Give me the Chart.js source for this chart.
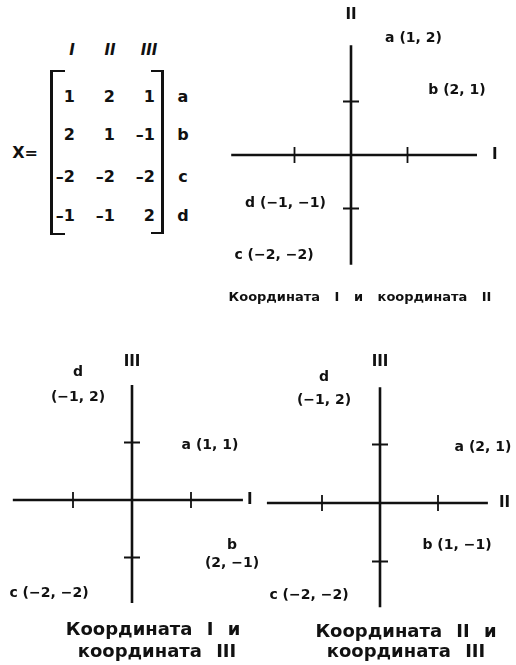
<!DOCTYPE html>
<html><head><meta charset="utf-8">
<script src="https://cdn.jsdelivr.net/npm/chart.js@4/dist/chart.umd.min.js"></script>
<style>
html,body{margin:0;padding:0;background:#fff;}
body{width:516px;height:665px;position:relative;overflow:hidden;font-family:"DejaVu Sans",sans-serif;color:#111;}
canvas{position:absolute;}
.t{position:absolute;font-weight:bold;line-height:1;white-space:nowrap;}
.br{position:absolute;border:0 solid #111;}
</style></head><body>
<div id="matrix"></div>
<canvas id="p12" width="316" height="320" style="left:200px;top:0px"></canvas>
<canvas id="p13" width="266" height="335" style="left:0px;top:330px"></canvas>
<canvas id="p23" width="254" height="335" style="left:262px;top:330px"></canvas>
<script>
// ---- data ----
const rowNames = ['a', 'b', 'c', 'd'];
const coordNames = ['I', 'II', 'III'];
const colI   = [1, 2, -2, -1];
const colII  = [2, 1, -2, -1];
const colIII = [1, -1, -2, 2];
const axisTicks = [-1, 1];

const INK = '#111';
const fmt = v => v < 0 ? '\u2212' + Math.abs(v) : String(v);
const fmtM = v => v < 0 ? '\u2013' + Math.abs(v) : String(v);

// ---- matrix (HTML text) ----
(function(){
  const m = document.getElementById('matrix');
  const add = (txt, x, y, size, align, style) => {
    const s = document.createElement('div');
    s.className = 't';
    s.textContent = txt;
    s.style.fontSize = size + 'px';
    s.style.left = x + 'px'; s.style.top = y + 'px';
    const tx = align === 'right' ? '-100%' : (align === 'left' ? '0' : '-50%');
    s.style.transform = `translate(${tx},-50%)`;
    if (style) s.style.fontStyle = style;
    m.appendChild(s);
  };
  const colRight = [75, 115, 155];
  const headX = [72, 110, 149];
  const rowY = [97, 135, 177, 216];
  const cols = [colI, colII, colIII];
  coordNames.forEach((n, j) => add(n, headX[j], 50, 15, 'center', 'italic'));
  rowNames.forEach((r, i) => {
    cols.forEach((c, j) => add(fmtM(c[i]), colRight[j], rowY[i], 16, 'right'));
    add(r, 183, rowY[i], 16, 'center');
  });
  add('X=', 25, 153, 16, 'center');
  const br = (css) => { const d = document.createElement('div'); d.className = 'br'; Object.assign(d.style, css); m.appendChild(d); };
  br({left:'50px', top:'70px', width:'12px', height:'161px', borderLeftWidth:'3px', borderTopWidth:'2.5px', borderBottomWidth:'2.5px'});
  br({left:'151px', top:'70px', width:'10px', height:'160px', borderRightWidth:'3px', borderTopWidth:'2.5px', borderBottomWidth:'2.5px'});
})();

// ---- plot layouts (positions / styles only) ----
const plots = [
  { id:'p12', xs: colI, ys: colII, xName: coordNames[0], yName: coordNames[1],
    box:[200,0,316,320], origin:[351,155], unit:[56.5,53.5], xExt:[-2.12,2.23], yExt:[-2.05,2.05],
    yNameGap:30, xNameGap:18,
    labels:[[6,-10,0],[-7,-11,0],[36,-7,0],[-9,-5,0]],
    caption:{ lines:['Координата I и координата II'], pos:[[360,298]], size:13, word:10 } },
  { id:'p13', xs: colI, ys: colIII, xName: coordNames[0], yName: coordNames[2],
    box:[0,330,266,335], origin:[132,500], unit:[59,57.5], xExt:[-2.02,1.88], yExt:[-1.79,2.0],
    yNameGap:23, xNameGap:7,
    labels:[[19,3,0],[-18,-3,18],[35,-22,0],[5,0,25]],
    caption:{ lines:['Координата I и','координата III'], pos:[[153,630],[157,652]], size:18, word:8 } },
  { id:'p23', xs: colII, ys: colIII, xName: coordNames[1], yName: coordNames[2],
    box:[262,330,254,335], origin:[380,503], unit:[58,58.5], xExt:[-1.95,1.86], yExt:[-1.78,1.98],
    yNameGap:25, xNameGap:14,
    labels:[[-13,3,0],[19,-16,0],[45,-25,0],[2,2.5,23]],
    caption:{ lines:['Координата II и','координата III'], pos:[[406,632],[406,652]], size:18, word:8 } }
];

function makePlugin(P) {
  return {
    id: 'crossAxes_' + P.id,
    afterDatasetsDraw(chart) {
      const ctx = chart.ctx, x = chart.scales.x, y = chart.scales.y;
      const x0 = x.getPixelForValue(0), y0 = y.getPixelForValue(0);
      ctx.save();
      ctx.strokeStyle = INK; ctx.fillStyle = INK;
      ctx.lineWidth = 2.6;
      ctx.beginPath();
      const xl = x.getPixelForValue(P.xExt[0]), xr = x.getPixelForValue(P.xExt[1]);
      const yb = y.getPixelForValue(P.yExt[0]), yt = y.getPixelForValue(P.yExt[1]);
      ctx.moveTo(xl, y0); ctx.lineTo(xr, y0);
      ctx.moveTo(x0, yb); ctx.lineTo(x0, yt);
      ctx.stroke();
      ctx.lineWidth = 1.8;
      ctx.beginPath();
      axisTicks.forEach(v => {
        const px = x.getPixelForValue(v), py = y.getPixelForValue(v);
        ctx.moveTo(px, y0 - 8); ctx.lineTo(px, y0 + 8);
        ctx.moveTo(x0 - 8, py); ctx.lineTo(x0 + 8, py);
      });
      ctx.stroke();
      // axis names
      ctx.font = 'bold 15px "DejaVu Sans"';
      ctx.textBaseline = 'middle'; ctx.textAlign = 'center';
      ctx.fillText(P.yName, x0, yt - P.yNameGap);
      ctx.textAlign = 'left';
      ctx.fillText(P.xName, xr + P.xNameGap - 3, y0);
      // point labels
      ctx.font = 'bold 14px "DejaVu Sans"';
      ctx.textAlign = 'center';
      const meta = chart.getDatasetMeta(0);
      meta.data.forEach((el, i) => {
        const [dx, dy, gap] = P.labels[i];
        const pair = '(' + fmt(P.xs[i]) + ', ' + fmt(P.ys[i]) + ')';
        if (gap) {
          ctx.fillText(rowNames[i], el.x + dx, el.y + dy - gap / 2);
          ctx.fillText(pair, el.x + dx, el.y + dy + gap / 2);
        } else {
          ctx.fillText(rowNames[i] + ' ' + pair, el.x + dx, el.y + dy);
        }
      });
      // caption
      const C = P.caption;
      ctx.font = 'bold ' + C.size + 'px "DejaVu Sans"';
      if ('wordSpacing' in ctx) ctx.wordSpacing = C.word + 'px';
      C.lines.forEach((t, k) => {
        ctx.fillText(t, C.pos[k][0] - P.box[0], C.pos[k][1] - P.box[1]);
      });
      ctx.restore();
    }
  };
}

plots.forEach(P => {
  const [bl, bt, bw, bh] = P.box;
  const ox = P.origin[0] - bl, oy = P.origin[1] - bt;
  const xmin = -ox / P.unit[0], xmax = (bw - ox) / P.unit[0];
  const ymax = oy / P.unit[1], ymin = -(bh - oy) / P.unit[1];
  new Chart(document.getElementById(P.id), {
    type: 'scatter',
    data: { datasets: [{ data: P.xs.map((v, i) => ({ x: v, y: P.ys[i] })), pointRadius: 0, pointHoverRadius: 0 }] },
    options: {
      responsive: false, animation: false, events: [],
      layout: { padding: 0 },
      plugins: { legend: { display: false }, tooltip: { enabled: false } },
      scales: {
        x: { type: 'linear', display: false, min: xmin, max: xmax },
        y: { type: 'linear', display: false, min: ymin, max: ymax }
      }
    },
    plugins: [makePlugin(P)]
  });
});
</script>
</body></html>
